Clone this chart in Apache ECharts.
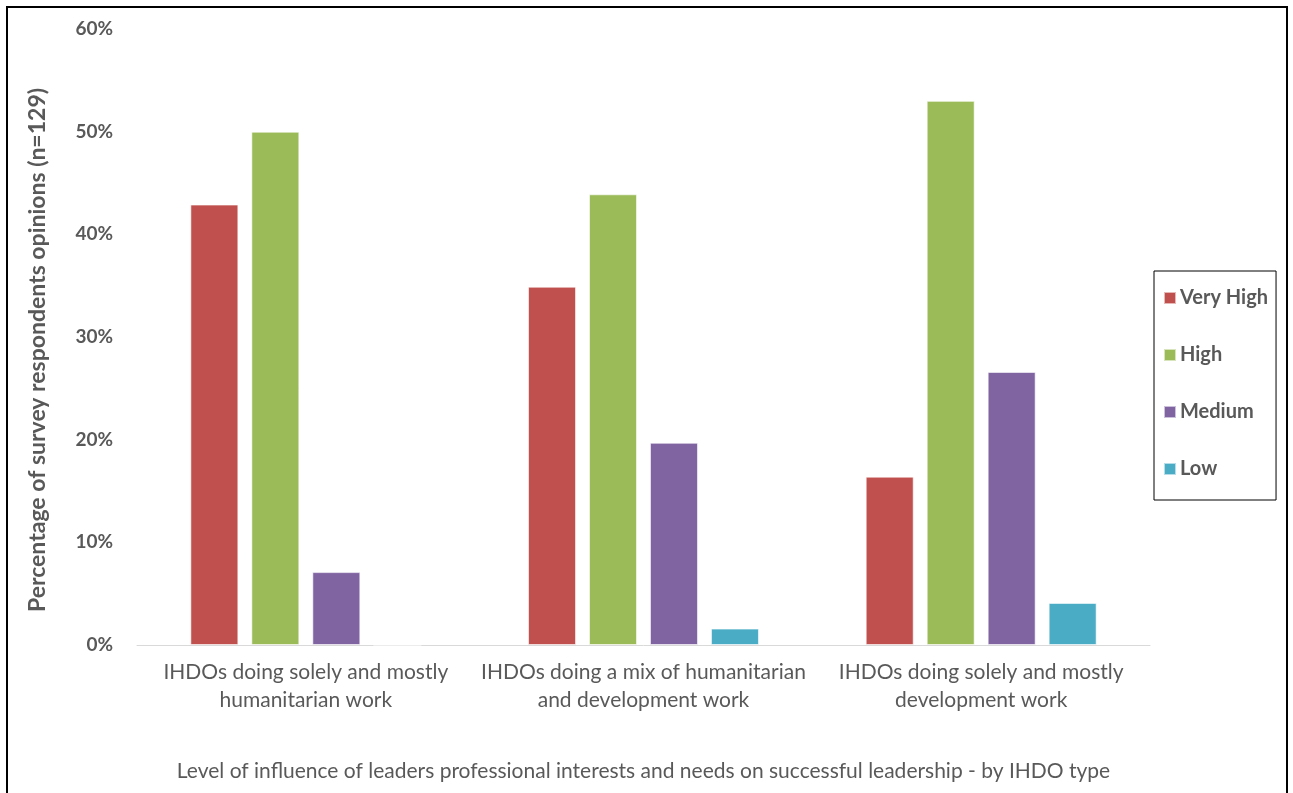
<!DOCTYPE html>
<html>
<head>
<meta charset="utf-8">
<script src="https://cdn.jsdelivr.net/npm/echarts@6/dist/echarts.min.js"></script>
<style>
  html, body { margin: 0; padding: 0; background: #fff; }
  #chart { width: 1293px; height: 793px; }
</style>
</head>
<body>
<div id="chart"></div>
<script>
// categories (IHDO type)
const categories = [
  'IHDOs doing solely and mostly\nhumanitarian work',
  'IHDOs doing a mix of humanitarian\nand development work',
  'IHDOs doing solely and mostly\ndevelopment work'
]
const levels = ['Very High', 'High', 'Medium', 'Low']
const colors = ['#c0504d', '#9bbb59', '#8064a2', '#4bacc6']

// percentage per level, one value per category
const veryHigh = [42.9, 34.9, 16.4]
const high = [50.0, 43.9, 53.0]
const medium = [7.1, 19.7, 26.6]
const low = [0, 1.6, 4.1]
const yTicks = [0, 10, 20, 30, 40, 50, 60]

const seriesValues = [veryHigh, high, medium, low]
const font = 'Lato, "Open Sans", sans-serif'
const grey = '#595959'

const chart = echarts.init(document.getElementById('chart'))

const option = {
  animation: false,
  textStyle: { fontFamily: font },
  graphic: [
    {
      type: 'rect',
      shape: { x: 7, y: 7, width: 1280, height: 800 },
      style: { fill: 'none', stroke: '#000', lineWidth: 2 },
      silent: true
    }
  ],
  grid: { left: 137, right: 143, top: 29, bottom: 148 },
  legend: {
    orient: 'vertical',
    left: 1154,
    top: 271,
    padding: [17, 8, 21, 9],
    borderColor: '#000',
    borderWidth: 1,
    itemWidth: 12,
    itemHeight: 12,
    itemGap: 37,
    icon: 'rect',
    data: levels,
    textStyle: { fontSize: 20, fontWeight: 'bold', color: grey, lineHeight: 20, padding: [0, 0, 0, -1] }
  },
  xAxis: {
    type: 'category',
    data: categories,
    name: 'Level of influence of leaders professional interests and needs on successful leadership - by IHDO type',
    nameLocation: 'middle',
    nameGap: 116,
    nameTextStyle: { fontSize: 21, color: grey },
    axisLine: { lineStyle: { color: '#d9d9d9', width: 1 } },
    axisTick: { show: false },
    axisLabel: { fontSize: 21, color: grey, lineHeight: 28, margin: 13, interval: 0 }
  },
  yAxis: {
    type: 'value',
    min: 0,
    max: yTicks[yTicks.length - 1],
    interval: yTicks[1] - yTicks[0],
    name: 'Percentage of survey respondents opinions (n=129)',
    nameLocation: 'middle',
    nameGap: 88,
    nameTextStyle: { fontSize: 23, fontWeight: 'bold', color: grey, padding: [0, 26, 0, 0] },
    axisLine: { show: false },
    axisTick: { show: false },
    splitLine: { show: false },
    axisLabel: { formatter: '{value}%', fontSize: 19, fontWeight: 'bold', color: grey, margin: 24 }
  },
  series: levels.map((name, i) => ({
    name,
    type: 'bar',
    data: seriesValues[i],
    barGap: '27%',
    barCategoryGap: '31.6%',
    itemStyle: { color: colors[i], borderColor: 'rgba(255,255,255,0.6)', borderWidth: 1 }
  }))
}

chart.setOption(option)
</script>
</body>
</html>
